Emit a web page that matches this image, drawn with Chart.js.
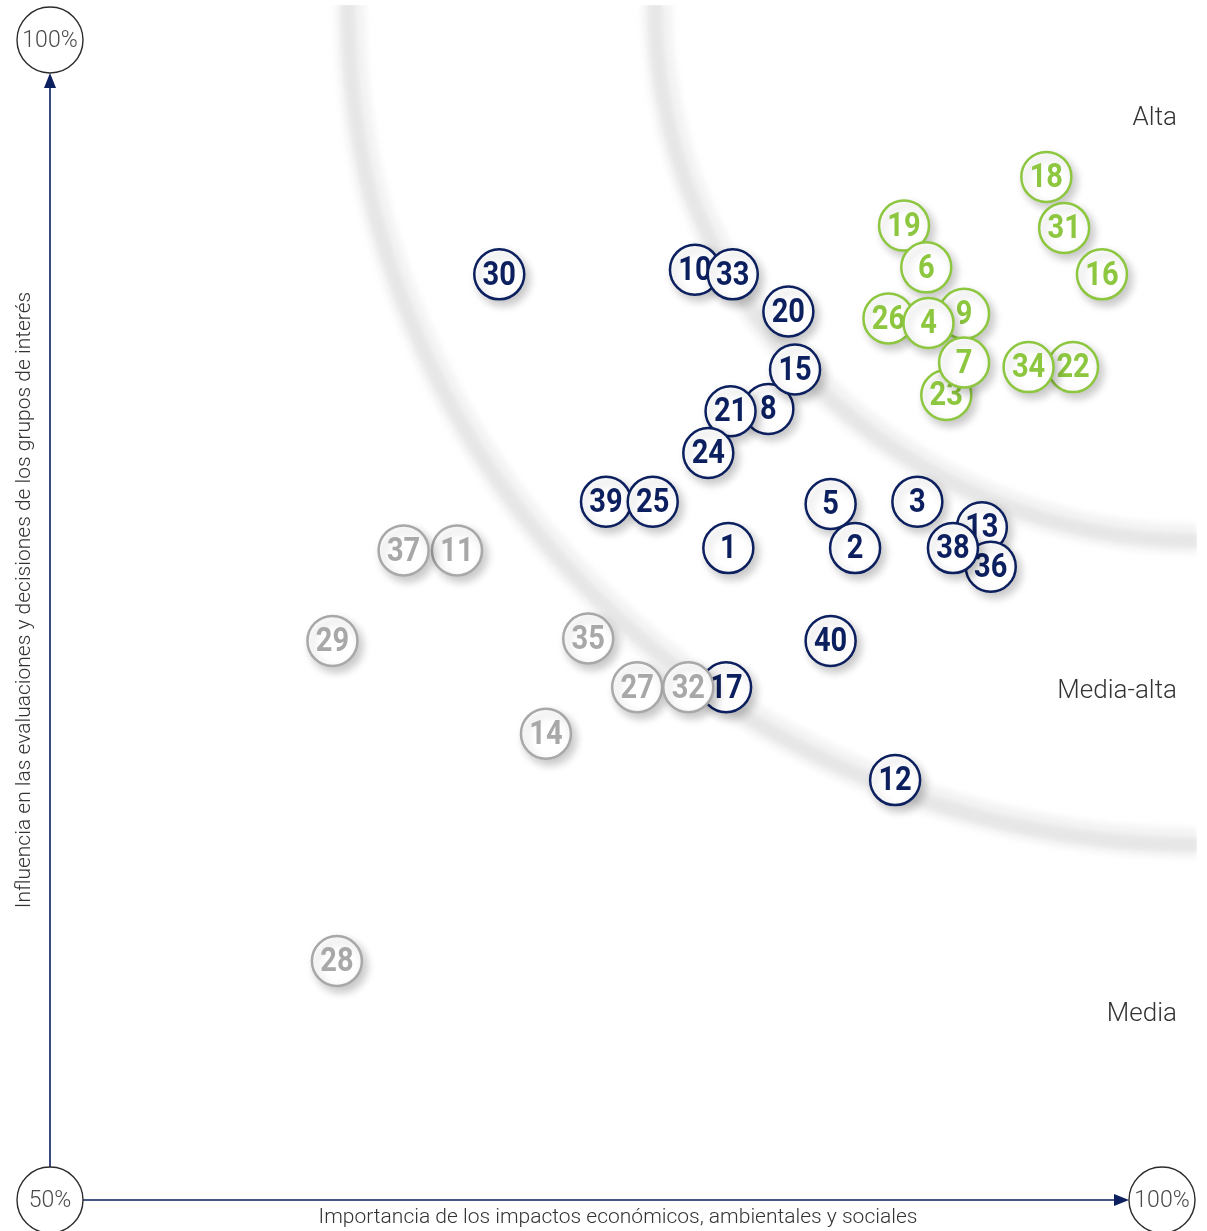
<!DOCTYPE html>
<html>
<head>
<meta charset="utf-8">
<script src="https://cdn.jsdelivr.net/npm/chart.js@4.4.1/dist/chart.umd.min.js"></script>
<style>
  html, body { margin: 0; padding: 0; background: #fff; }
  #wrap { width: 1207px; height: 1231px; }
</style>
</head>
<body>
<div id="wrap"><canvas id="matriz" width="1207" height="1231"></canvas></div>
<script>
/*--------------------------------------------------------------------------------------------------------*/
/* Matriz de materialidad - datos */
const temasAlta = ['18', '19', '6', '31', '16', '26', '9', '4', '23', '7', '22', '34'];
const altaX = [94.8, 88.4, 89.4, 95.6, 97.3, 87.7, 91.1, 89.5, 90.3, 91.1, 96.0, 94.0];
const altaY = [94.1, 92.0, 90.2, 91.9, 89.9, 88.0, 88.2, 87.8, 84.7, 86.1, 85.9, 85.9];

const temasMediaAlta = ['30', '10', '33', '20', '8', '15', '21', '24', '39', '25', '5', '3', '1', '2', '13', '36', '38', '40', '17', '12'];
const mediaAltaX = [70.2, 79.0, 80.7, 83.2, 82.3, 83.5, 80.6, 79.6, 75.0, 77.1, 85.1, 89.0, 80.5, 86.2, 91.9, 92.3, 90.6, 85.1, 80.4, 88.0];
const mediaAltaY = [89.9, 90.1, 89.9, 88.3, 84.1, 85.8, 84.0, 82.2, 80.1, 80.1, 80.0, 80.1, 78.1, 78.1, 79.0, 77.3, 78.1, 74.1, 72.1, 68.1];

const temasMedia = ['11', '37', '29', '35', '27', '32', '14', '28'];
const mediaX = [68.3, 65.9, 62.7, 74.2, 76.4, 78.7, 72.3, 62.9];
const mediaY = [78.0, 78.0, 74.1, 74.2, 72.1, 72.1, 70.1, 60.3];

const nivelesTexto = ['Alta', 'Media-alta', 'Media'];
const nivelesY = [96.6, 71.9, 58.0];

const ejeMin = 50;
const ejeMax = 100;

// arcos que separan las zonas (centro y radios en unidades de la escala)
const arcoCentro = [101.6, 101.6];
const arcosRadioX = [38.1, 24.3];
const arcosRadioY = [36.2, 23.1];

const tituloX = 'Importancia de los impactos económicos, ambientales y sociales';
const tituloY = 'Influencia en las evaluaciones y decisiones de los grupos de interés';

const azul = '#0c1f5e';
const verde = '#8dc63f';
const gris = '#a8a8a8';

function puntos(xs, ys) {
  return xs.map((x, i) => ({ x: x, y: ys[i] }));
}

/*--------------------------------------------------------------------------------------------------------*/
/* Plugins de dibujo */
const fondoPlugin = {
  id: 'fondo',
  beforeDatasetsDraw(chart) {
    const ctx = chart.ctx;
    const sx = chart.scales.x;
    const sy = chart.scales.y;
    const cx = sx.getPixelForValue(arcoCentro[0]);
    const cy = sy.getPixelForValue(arcoCentro[1]);

    ctx.save();
    ctx.beginPath();
    ctx.rect(0, 5, 1197, chart.height);
    ctx.clip();
    arcosRadioX.forEach((rxv, i) => {
      const rx = cx - sx.getPixelForValue(arcoCentro[0] - rxv);
      const ry = sy.getPixelForValue(arcoCentro[1] - arcosRadioY[i]) - cy;
      ctx.filter = 'blur(3px)';
      ctx.lineWidth = 30;
      ctx.strokeStyle = '#f3f3f3';
      ctx.beginPath();
      ctx.ellipse(cx, cy, rx, ry, 0, Math.PI / 2, Math.PI);
      ctx.stroke();
      ctx.filter = 'blur(2px)';
      ctx.lineWidth = 14;
      ctx.strokeStyle = '#e7e7e7';
      ctx.beginPath();
      ctx.ellipse(cx, cy, rx + 2, ry + 2, 0, Math.PI / 2, Math.PI);
      ctx.stroke();
    });
    ctx.restore();

    // ejes con flechas
    const x0 = sx.getPixelForValue(ejeMin);
    const y0 = sy.getPixelForValue(ejeMin);
    const x1 = sx.getPixelForValue(ejeMax);
    const y1 = sy.getPixelForValue(ejeMax);
    const r = 33;
    ctx.save();
    ctx.strokeStyle = azul;
    ctx.fillStyle = azul;
    ctx.lineWidth = 1.6;
    ctx.beginPath();
    ctx.moveTo(x0, y0 - r);
    ctx.lineTo(x0, y1 + r + 12);
    ctx.moveTo(x0 + r, y0);
    ctx.lineTo(x1 - r - 12, y0);
    ctx.stroke();
    ctx.beginPath();
    ctx.moveTo(x0, y1 + r);
    ctx.lineTo(x0 - 6, y1 + r + 15);
    ctx.lineTo(x0 + 6, y1 + r + 15);
    ctx.closePath();
    ctx.fill();
    ctx.beginPath();
    ctx.moveTo(x1 - r, y0);
    ctx.lineTo(x1 - r - 15, y0 - 6);
    ctx.lineTo(x1 - r - 15, y0 + 6);
    ctx.closePath();
    ctx.fill();

    // circulos de los extremos
    const extremos = [[x0, y0, ejeMin + '%'], [x0, y1, ejeMax + '%'], [x1, y0, ejeMax + '%']];
    ctx.lineWidth = 1.4;
    ctx.strokeStyle = '#2b2b2b';
    ctx.font = '300 23px Roboto';
    ctx.textAlign = 'center';
    ctx.textBaseline = 'middle';
    extremos.forEach(e => {
      ctx.fillStyle = '#fff';
      ctx.beginPath();
      ctx.arc(e[0], e[1], r, 0, Math.PI * 2);
      ctx.fill();
      ctx.stroke();
      ctx.fillStyle = '#4a4a4a';
      ctx.fillText(e[2], e[0], e[1] + 1);
    });

    // niveles
    ctx.fillStyle = '#333';
    ctx.font = '300 26px Roboto';
    ctx.textAlign = 'right';
    nivelesTexto.forEach((t, i) => {
      ctx.fillText(t, 1177, sy.getPixelForValue(nivelesY[i]));
    });

    // titulos de ejes
    ctx.font = '300 21px Roboto';
    ctx.textAlign = 'center';
    ctx.fillStyle = '#333';
    ctx.fillText(tituloX, 618, 1218);
    ctx.translate(25, 600);
    ctx.rotate(-Math.PI / 2);
    ctx.fillText(tituloY, 0, 0);
    ctx.restore();
  },
  beforeDatasetDraw(chart, args) {
    const ctx = chart.ctx;
    const ds = chart.data.datasets[args.index];
    args.meta.data.forEach((el, i) => {
      ctx.save();
      ctx.shadowColor = 'rgba(0, 0, 0, 0.22)';
      ctx.shadowBlur = 10;
      ctx.shadowOffsetX = 4;
      ctx.shadowOffsetY = 5;
      el.draw(ctx, chart.chartArea);
      ctx.restore();
      ctx.save();
      ctx.fillStyle = ds.borderColor;
      ctx.font = 'bold 33px Roboto';
      ctx.textAlign = 'center';
      ctx.textBaseline = 'middle';
      ctx.translate(el.x, el.y + 2);
      ctx.scale(0.88, 1);
      ctx.fillText(ds.temas[i], 0, 0);
      ctx.restore();
    });
    return false;
  }
};

/*--------------------------------------------------------------------------------------------------------*/
/* Grafico */
const pxX = 22.24;
const pxY = 23.2;

const config = {
  type: 'scatter',
  data: {
    datasets: [
      {
        label: 'Alta',
        temas: temasAlta,
        data: puntos(altaX, altaY),
        borderColor: verde,
        order: 2
      },
      {
        label: 'Media-alta',
        temas: temasMediaAlta,
        data: puntos(mediaAltaX, mediaAltaY),
        borderColor: azul,
        order: 1
      },
      {
        label: 'Media',
        temas: temasMedia,
        data: puntos(mediaX, mediaY),
        borderColor: gris,
        order: 0
      }
    ]
  },
  options: {
    responsive: false,
    animation: false,
    events: [],
    layout: { padding: 0, autoPadding: false },
    elements: {
      point: {
        radius: 25,
        hoverRadius: 25,
        borderWidth: 2.5,
        backgroundColor: '#fff'
      }
    },
    scales: {
      x: {
        type: 'linear',
        display: false,
        min: ejeMin - 50 / pxX,
        max: ejeMin - 50 / pxX + 1207 / pxX
      },
      y: {
        type: 'linear',
        display: false,
        max: ejeMax + 40 / pxY,
        min: ejeMax + 40 / pxY - 1231 / pxY
      }
    },
    plugins: {
      legend: { display: false },
      tooltip: { enabled: false }
    }
  },
  plugins: [fondoPlugin]
};

const matriz = new Chart(
  document.getElementById('matriz'),
  config
);
</script>
</body>
</html>
